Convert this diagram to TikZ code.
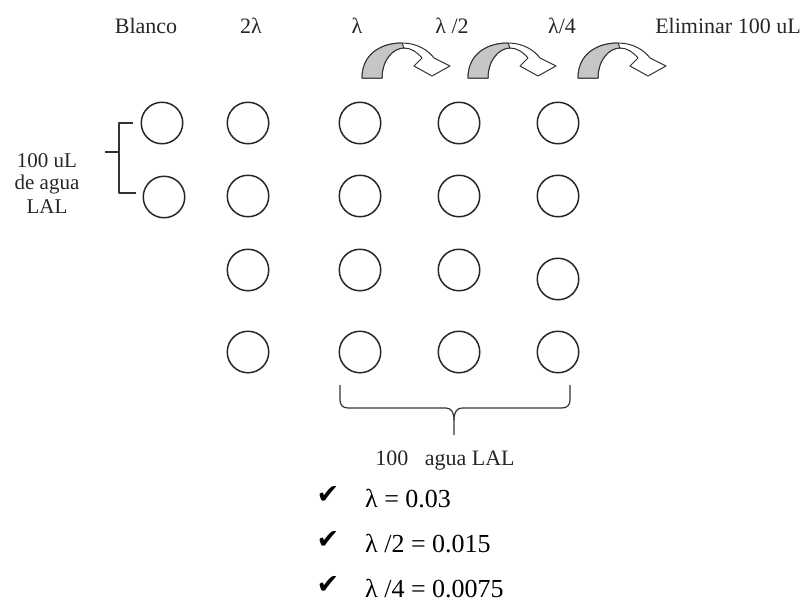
\documentclass[tikz,border=0pt]{standalone}
\usepackage{fontspec}
\setmainfont{Liberation Serif}
\newfontfamily\symfont{DejaVu Sans}
\begin{document}
\begin{tikzpicture}[x=1pt,y=-1pt,
  well/.style={circle,draw=black!85,line width=1.5pt,minimum size=41.5pt,inner sep=0pt},
  toplabel/.style={anchor=base,inner sep=0pt,text=black!85,font=\fontsize{22}{26}\selectfont},
  sidelabel/.style={anchor=base,inner sep=0pt,text=black!85,font=\fontsize{21}{23}\selectfont},
  listitem/.style={anchor=base west,inner sep=0pt,font=\fontsize{26}{30}\selectfont},
  tick/.style={anchor=base,inner sep=0pt,font=\symfont\fontsize{27}{30}\selectfont},
  bracket/.style={draw=black!80,line width=1.2pt,line join=round},
  bendarrow/.pic={
    % white body of the bent arrow
    \filldraw[fill=white,draw=black!80,line width=1pt,line join=round]
      (0,0) .. controls (0,-24) and (19,-35) .. (40,-35)
      .. controls (55,-35) and (66,-28) .. (72,-20)
      -- (88,-12) -- (70,-2) -- (52,-12) -- (60,-20)
      .. controls (55,-26) and (49,-30) .. (42,-30)
      .. controls (31,-30) and (20,-18) .. (20,0) -- cycle;
    % shaded rising part
    \filldraw[fill=gray!45,draw=black!80,line width=1pt,line join=round]
      (0,0) .. controls (0,-24) and (19,-35) .. (40,-35)
      -- (42,-30) .. controls (31,-30) and (20,-18) .. (20,0) -- cycle;
  }]
\useasboundingbox (0,0) rectangle (810,603);

% column headings
\node[toplabel] (hBlanco) at (146,33) {Blanco};
\node[toplabel] (hDos)    at (251,33) {2λ};
\node[toplabel] (hUno)    at (357,33) {λ};
\node[toplabel] (hMedio)  at (452,33) {λ /2};
\node[toplabel] (hCuarto) at (562,33) {λ/4};
\node[toplabel] (hElim)   at (728,33) {Eliminar 100 uL};

% transfer arrows
\pic at (362,78) {bendarrow};
\pic at (468,78) {bendarrow};
\pic at (578,78) {bendarrow};

% blank wells
\node[well] (b1) at (162,123) {};
\node[well] (b2) at (164,197) {};

% dilution wells
\foreach \c/\x in {2/248,3/360,4/459,5/558}{
  \node[well] (w\c-1) at (\x,123) {};
  \node[well] (w\c-2) at (\x,196) {};
  \node[well] (w\c-4) at (\x,352) {};
}
\node[well] (w2-3) at (248,270) {};
\node[well] (w3-3) at (360,270) {};
\node[well] (w4-3) at (459,270) {};
\node[well] (w5-3) at (558,279) {};

% bracket for the blank wells
\coordinate (lbTop) at (133,123);
\coordinate (lbBot) at (136,193);
\coordinate (lbMid) at (105,152);
\draw[bracket] (lbTop) -- (119,123) -- (119,193) -- (lbBot);
\draw[bracket] (lbMid) -- (119,152);

\node[sidelabel] (s1) at (47,167) {100 uL};
\node[sidelabel] (s2) at (47,189) {de agua};
\node[sidelabel] (s3) at (47,213) {LAL};

% brace under the last three columns
\coordinate (brL) at (340,385);
\coordinate (brR) at (570,385);
\coordinate (brS) at (454,435);
\draw[bracket] (brL) -- (340,400) .. controls (340,405) and (343,408) .. (348,408)
  -- (446,408) .. controls (451,408) and (454,412) .. (454,420) -- (brS);
\draw[bracket] (454,420) .. controls (454,412) and (457,408) .. (462,408)
  -- (562,408) .. controls (567,408) and (570,405) .. (570,400) -- (brR);

\node[toplabel] (agua) at (445,465) {100\hspace{0.5em} agua LAL};

% concentration list
\node[tick] (k1) at (328,503) {✔};
\node[tick] (k2) at (328,548) {✔};
\node[tick] (k3) at (328,593) {✔};
\node[listitem] (l1) at (365,507) {λ = 0.03};
\node[listitem] (l2) at (365,552) {λ /2 = 0.015};
\node[listitem] (l3) at (365,597) {λ /4 = 0.0075};
\end{tikzpicture}
\end{document}
